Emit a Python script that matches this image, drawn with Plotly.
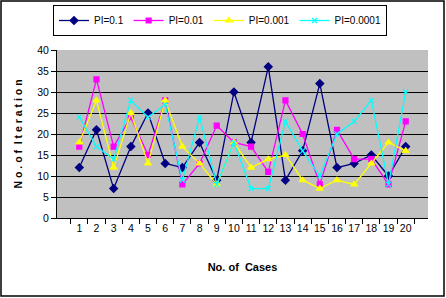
import plotly.graph_objects as go

cases = [str(i) for i in range(1, 21)]
pi_01 = [12, 21, 7, 17, 25, 13, 12, 18, 9, 30, 18, 36, 9, 16, 32, 12, 13, 15, 10, 17]
pi_001 = [17, 33, 17, 24, 15, 28, 8, 13, 22, 18, 17, 11, 28, 20, 8, 21, 14, 14, 8, 23]
pi_0001 = [18, 28, 12, 25, 13, 28, 17, 13, 8, 18, 12, 14, 15, 9, 7, 9, 8, 13, 18, 16]
pi_00001 = [24, 17, 14, 28, 24, 27, 9, 24, 8, 18, 7, 7, 23, 16, 10, 20, 23, 28, 8, 30]
y_ticks = [0, 5, 10, 15, 20, 25, 30, 35, 40]

W, H = 446, 298
L, R, T, B = 57, 18, 50, 80
pw, ph = W - L - R, H - T - B

series = [
    ("PI=0.1", pi_01, "#000080", "diamond", 6),
    ("PI=0.01", pi_001, "#FF00FF", "square", 5),
    ("PI=0.001", pi_0001, "#FFFF00", "triangle-up", 6),
    ("PI=0.0001", pi_00001, "#00FFFF", "x-thin-open", 5),
]

fig = go.Figure()
for name, vals, col, sym, sz in series:
    fig.add_trace(go.Scatter(
        x=cases, y=vals, name=name, mode="lines+markers",
        line=dict(color=col, width=1.3),
        marker=dict(symbol=sym, size=sz, color=col, line=dict(color=col, width=1.2)),
    ))

fig.update_layout(
    width=W, height=H,
    margin=dict(l=L, r=R, t=T, b=B, autoexpand=False),
    paper_bgcolor="white", plot_bgcolor="#C0C0C0",
    font=dict(family="Liberation Sans, Arial, sans-serif", size=11, color="black"),
    showlegend=True,
    legend=dict(
        orientation="h", xref="container", yref="container",
        x=220 / W, xanchor="center", y=1 - 5 / H, yanchor="top",
        bordercolor="black", borderwidth=1, bgcolor="white",
        font=dict(size=10), itemwidth=30, tracegroupgap=0,
    ),
    xaxis=dict(
        type="category", tickson="boundaries", ticks="outside", ticklen=5,
        tickcolor="black", showline=True, linecolor="black", linewidth=1,
        showgrid=False, mirror=False, tickangle=0, tickfont=dict(size=10.5),
        title=dict(text="<b>No. of  Cases</b>", font=dict(size=11), standoff=30),
    ),
    yaxis=dict(
        range=[0, 40], tickvals=y_ticks, ticks="outside", ticklen=5,
        tickcolor="black", showline=True, linecolor="black", linewidth=1,
        showgrid=True, gridcolor="black", gridwidth=1, zeroline=False,
        tickfont=dict(size=10.5),
        title=dict(text="<b>N o . o f  I t e r a t i o n</b>", font=dict(size=10.5), standoff=12),
    ),
    shapes=[dict(
        type="rect", xref="paper", yref="paper",
        x0=-(L - 1) / pw, x1=1 + (R - 2) / pw,
        y0=-(B - 2) / ph, y1=1 + (T - 1) / ph,
        line=dict(color="black", width=1.5), fillcolor="rgba(0,0,0,0)", layer="below",
    )],
)

fig.write_html("out.html")
